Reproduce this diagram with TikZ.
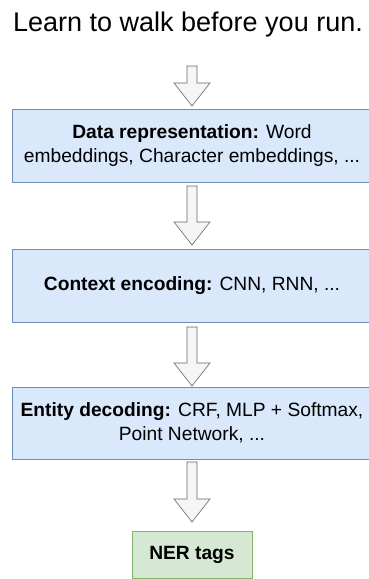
\documentclass[tikz,border=0pt]{standalone}
\usepackage{fontspec}
\setmainfont{Liberation Sans}
\definecolor{bfill}{HTML}{DAE8FC}
\definecolor{bline}{HTML}{6C8EBF}
\definecolor{gfill}{HTML}{D5E8D4}
\definecolor{gline}{HTML}{82B366}
\definecolor{afill}{HTML}{F5F5F5}
\definecolor{aline}{HTML}{666666}
\tikzset{
  stage/.style={draw=bline, fill=bfill, line width=0.8pt, minimum width=360pt, align=center, font=\fontsize{19.2}{24}\selectfont, inner sep=0pt},
  outbox/.style={draw=gline, fill=gfill, line width=0.8pt, minimum width=120pt, minimum height=47pt, font=\fontsize{19.2}{24}\selectfont\bfseries, inner sep=0pt},
  bigarrow/.style={draw=aline, fill=afill, line width=0.6pt, line join=miter}
}
\newcommand{\downarrowshape}[3]{% x, ytop, ytip
  \draw[bigarrow] (#1-5,#2) -- (#1+5,#2) -- (#1+5,#3-23) -- (#1+18,#3-23) -- (#1,#3) -- (#1-18,#3-23) -- (#1-5,#3-23) -- cycle;
}
\begin{document}
\begin{tikzpicture}[x=1pt,y=-1pt]
\useasboundingbox (0,0) rectangle (369,579);
\clip (0,0) rectangle (369,579);
\node[font=\fontsize{27}{30}\selectfont, anchor=center] (title) at (188,25) {Learn to walk before you run.};
\node[stage, minimum height=73pt] (data) at (192,145.5) {\textbf{Data representation:} Word\\embeddings, Character embeddings, ...};
\node[stage, minimum height=73pt] (ctx) at (192,285.5) {\textbf{Context encoding:} CNN, RNN, ...};
\node[stage, minimum height=72pt] (ent) at (192,423) {\textbf{Entity decoding:} CRF, MLP + Softmax,\\Point Network, ...};
\node[outbox] (ner) at (192,554.5) {NER tags};
\downarrowshape{192}{66}{106}
\downarrowshape{192}{186}{245}
\downarrowshape{192}{327}{386}
\downarrowshape{192}{462}{522}
\end{tikzpicture}
\end{document}
